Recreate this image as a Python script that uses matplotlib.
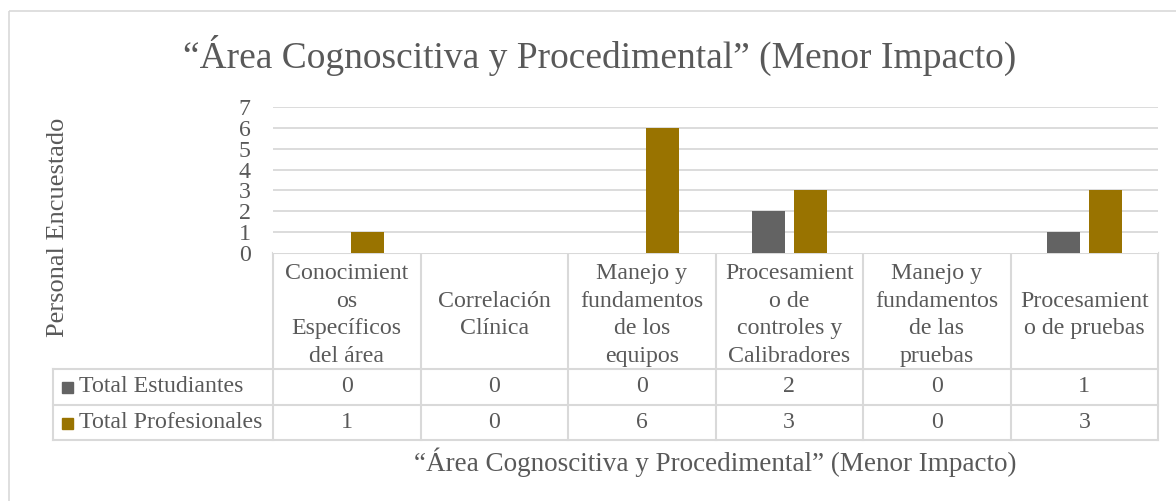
import numpy as np
import matplotlib.pyplot as plt
from matplotlib.patches import Rectangle

plt.rcParams['font.family'] = ['Liberation Serif', 'DejaVu Serif']

# datos del grafico
categorias = ['Conocimient\nos\nEspecíficos\ndel área',
              'Correlación\nClínica',
              'Manejo y\nfundamentos\nde los\nequipos',
              'Procesamient\no de\ncontroles y\nCalibradores',
              'Manejo y\nfundamentos\nde las\npruebas',
              'Procesamient\no de pruebas']
estudiantes = [0, 0, 0, 2, 0, 1]
profesionales = [1, 0, 6, 3, 0, 3]
series = ['Total Estudiantes', 'Total Profesionales']
colores = ['#636363', '#997300']
titulo = '“Área Cognoscitiva y Procedimental” (Menor Impacto)'
ylabel = 'Personal Encuestado'

W, H = 1176, 501
gris_txt = '#595959'
gris_lin = '#D9D9D9'
fs = 17.2

fig = plt.figure(figsize=(W/100, H/100), dpi=100)

# capa en pixeles para marco, titulo y tabla
lay = fig.add_axes([0, 0, 1, 1])
lay.set_xlim(0, W)
lay.set_ylim(H, 0)
lay.axis('off')
lay.add_patch(Rectangle((9, 11), W, H, fill=False, edgecolor=gris_lin, lw=1.2))

lay.text(600, 68, titulo, ha='center', va='baseline', fontsize=27, color=gris_txt)
lay.text(58, 227, ylabel, ha='center', va='center', rotation=90, fontsize=19, color=gris_txt)
lay.text(715, 471, titulo, ha='center', va='baseline', fontsize=19.5, color=gris_txt)

# area de barras
x0, x1, ytop, ybot = 273, 1158, 107, 253
ax = fig.add_axes([x0/W, 1 - ybot/H, (x1 - x0)/W, (ybot - ytop)/H])
n = len(categorias)
x = np.arange(n)
bw = 0.224
ax.bar(x - 0.142, estudiantes, bw, color=colores[0], zorder=3)
ax.bar(x + 0.142, profesionales, bw, color=colores[1], zorder=3)
ax.set_xlim(-0.5, n - 0.5)
ax.set_ylim(0, 7)
ax.set_yticks(range(0, 8))
ax.set_xticks([])
for s in ax.spines.values():
    s.set_visible(False)
ax.tick_params(axis='y', length=0, pad=16, labelsize=fs, labelcolor=gris_txt)
for v in range(1, 8):
    ax.axhline(v, color=gris_lin, lw=1.3, zorder=1)

# tabla de datos
cw = (x1 - x0) / n
r0, r1, r2, r3 = 253, 369, 405, 440
lc = 53
kw = dict(color=gris_lin, lw=1.5)
for i in range(n + 1):
    xe = x0 + i * cw
    lay.plot([xe, xe], [r0, r3], **kw)
lay.plot([lc, lc], [r1, r3], **kw)
lay.plot([x0, x1], [r0, r0], **kw)
for yy in (r1, r2, r3):
    lay.plot([lc, x1], [yy, yy], **kw)

for i, cat in enumerate(categorias):
    cx = x0 + (i + 0.5) * cw
    lay.text(cx, (r0 + r1) / 2 + 4, cat, ha='center', va='center', fontsize=fs,
             color=gris_txt, linespacing=1.4)
    lay.text(cx, (r1 + r2) / 2, str(estudiantes[i]), ha='center', va='center',
             fontsize=fs, color=gris_txt)
    lay.text(cx, (r2 + r3) / 2, str(profesionales[i]), ha='center', va='center',
             fontsize=fs, color=gris_txt)

for j, (nom, col) in enumerate(zip(series, colores)):
    yc = (r1 + r2) / 2 if j == 0 else (r2 + r3) / 2
    lay.add_patch(Rectangle((62, yc - 5), 11, 11, color=col))
    lay.text(79, yc, nom, ha='left', va='center', fontsize=fs, color=gris_txt)

fig.savefig('out.png', dpi=100)
